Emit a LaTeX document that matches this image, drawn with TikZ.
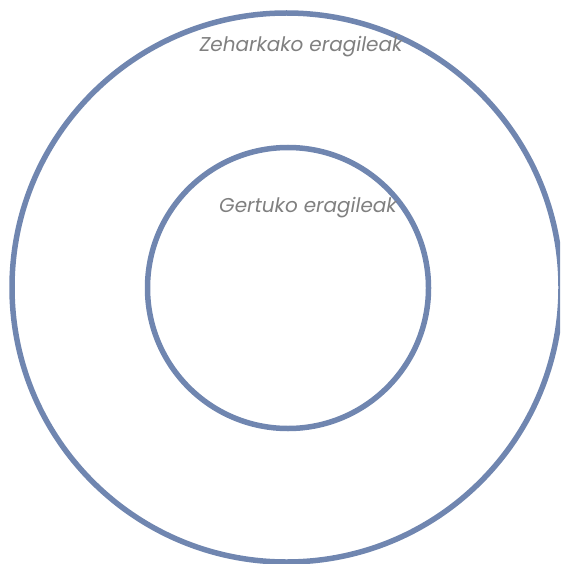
\documentclass[tikz,border=0pt]{standalone}
\usepackage{fontspec}
\setmainfont{Poppins}
\definecolor{ring}{HTML}{7086B0}
\definecolor{lbl}{HTML}{808080}
\begin{document}
\begin{tikzpicture}[x=1pt,y=-1pt,
  ringline/.style={draw=ring,line width=5.5pt},
  lbltext/.style={text=lbl,font=\fontsize{20}{24}\selectfont\itshape,inner sep=0pt}]
\useasboundingbox (0,0) rectangle (560,564);
\begin{scope}
\clip (0,0) rectangle (560,564);
\draw[ringline] (286.5,287.5) circle[radius=274.5];
\end{scope}
\draw[ringline] (288,288) circle[radius=140.5];
\node[lbltext] (outer) at (301,47) {Zeharkako eragileak};
\node[lbltext] (inner) at (308,208) {Gertuko eragileak};
\end{tikzpicture}
\end{document}
